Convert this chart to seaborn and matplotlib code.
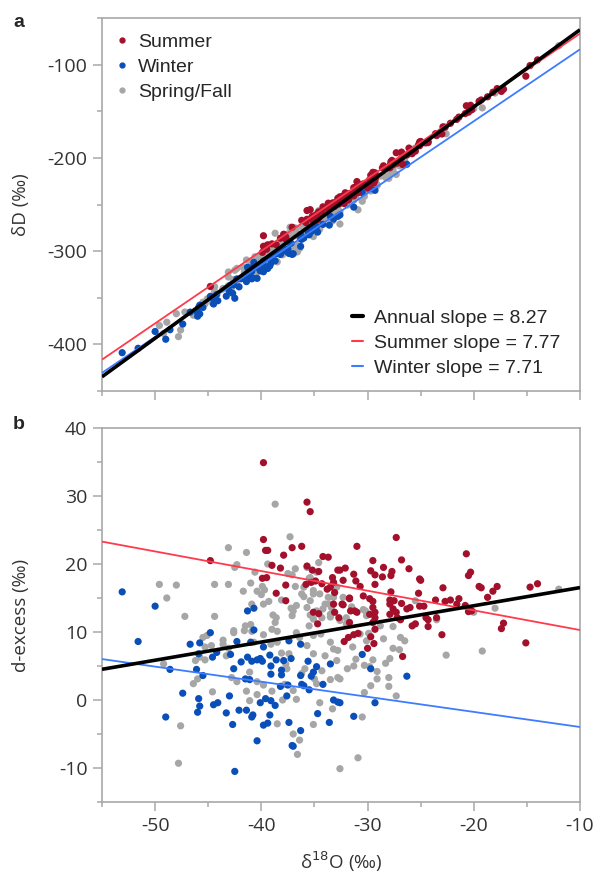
import numpy as np
import pandas as pd
import matplotlib
matplotlib.use("Agg")
import matplotlib.pyplot as plt
import seaborn as sns
from matplotlib.lines import Line2D
from matplotlib.ticker import MultipleLocator

sns.set_style("white")
plt.rcParams["font.family"] = ["Open Sans", "DejaVu Sans"]

# ---------------- data (delta18O, d-excess) ----------------
summer_points = [
    (-39.8, 34.9), (-35.7, 29.1), (-35.4, 27.7), (-39.8, 23.6), (-39.6, 22.0), (-39.4, 22.0),
    (-37.1, 22.4), (-36.2, 22.6), (-44.8, 20.5), (-37.9, 21.3), (-39.0, 19.8), (-38.2, 19.4),
    (-34.2, 21.1), (-33.7, 21.0), (-35.7, 19.7), (-35.2, 19.1), (-34.6, 18.9), (-32.8, 19.1),
    (-39.9, 17.9), (-39.5, 18.0), (-37.7, 16.9), (-35.8, 17.0), (-35.3, 17.3), (-34.9, 17.5),
    (-33.3, 18.0), (-33.2, 17.3), (-33.5, 16.6), (-38.6, 15.7), (-37.7, 14.6), (-33.1, 12.9),
    (-34.3, 17.1), (-33.8, 16.3), (-31.3, 18.5), (-32.3, 17.6), (-31.7, 15.0), (-33.1, 15.8),
    (-31.6, 13.1), (-33.2, 14.1), (-32.4, 14.1), (-34.6, 12.7), (-35.1, 12.9),
    (-27.3, 23.9), (-31.0, 22.6), (-29.5, 20.5), (-26.8, 20.6), (-20.7, 21.5), (-32.1, 19.4),
    (-32.6, 19.1), (-29.7, 19.0), (-28.5, 19.5), (-27.7, 18.9), (-26.1, 19.3), (-29.3, 18.4),
    (-28.6, 18.1), (-27.8, 18.3), (-20.5, 18.3), (-20.3, 18.8), (-31.1, 17.5), (-30.7, 16.7),
    (-29.3, 17.0), (-25.1, 17.8), (-25.0, 17.6), (-19.5, 16.7), (-19.3, 16.5), (-17.8, 16.7),
    (-14.7, 16.6), (-14.0, 17.1), (-22.9, 16.5), (-18.2, 16.0), (-18.7, 15.1), (-25.2, 15.7),
    (-27.8, 15.9), (-31.7, 14.9), (-30.4, 15.3), (-29.8, 14.9), (-29.5, 14.5), (-27.9, 14.7),
    (-27.5, 14.6), (-26.8, 14.2), (-27.9, 14.1), (-23.6, 14.7), (-22.7, 14.5), (-22.2, 14.7),
    (-21.4, 14.9), (-21.6, 14.1), (-20.8, 13.9), (-25.1, 13.8), (-24.7, 13.8), (-26.0, 13.6),
    (-26.3, 13.4), (-29.5, 13.6), (-29.3, 12.9), (-29.8, 12.6), (-31.2, 13.1), (-32.3, 14.0),
    (-27.6, 13.4), (-27.3, 12.9), (-27.9, 12.6), (-20.5, 13.0), (-20.2, 13.1), (-24.5, 12.1),
    (-23.5, 12.1), (-17.2, 11.3), (-17.4, 10.5), (-15.1, 8.4), (-23.0, 9.6), (-24.3, 11.8),
    (-24.3, 10.8), (-25.5, 11.2), (-25.8, 10.9), (-26.9, 11.8), (-27.2, 12.1), (-29.3, 10.4),
    (-29.5, 11.4), (-29.3, 12.1), (-32.2, 8.6), (-31.8, 9.2), (-31.3, 9.6), (-30.9, 9.8),
    (-29.7, 9.3), (-30.0, 7.6), (-29.4, 8.3), (-26.7, 6.4), (-31.7, 11.4), (-31.0, 12.9),
    (-34.7, 11.2), (-32.7, 12.1),
]

winter_points = [
    (-53.1, 15.9), (-50.0, 13.8), (-41.3, 13.1), (-40.7, 13.5), (-51.6, 8.6), (-48.6, 4.5),
    (-46.7, 8.2), (-45.8, 8.4), (-44.8, 9.9), (-40.7, 10.3), (-42.3, 8.6), (-41.0, 8.5),
    (-39.8, 7.8), (-37.4, 8.7), (-36.3, 8.2), (-45.9, 6.8), (-44.6, 6.3), (-42.9, 6.7),
    (-44.2, 7.0), (-41.3, 6.3), (-40.4, 5.9), (-40.1, 6.1), (-39.9, 5.7), (-40.9, 5.7),
    (-41.9, 5.6), (-39.2, 6.6), (-38.6, 5.9), (-37.9, 5.8), (-37.2, 6.1), (-35.6, 5.7),
    (-34.8, 4.9), (-33.5, 5.3), (-46.1, 4.5), (-45.5, 3.6), (-42.6, 4.6), (-39.1, 5.0),
    (-39.1, 3.8), (-38.1, 4.4), (-38.1, 3.7), (-41.5, 3.1), (-41.1, 3.0), (-36.3, 3.6),
    (-35.3, 3.5), (-35.1, 4.1), (-38.2, 2.0), (-37.5, 2.2), (-36.2, 2.3), (-35.5, 1.5),
    (-34.2, 2.3), (-47.4, 1.0), (-43.0, 0.6), (-40.1, -0.4), (-39.6, 0.2), (-39.1, -0.1),
    (-38.7, -0.8), (-37.6, 0.6), (-45.9, 0.2), (-45.8, -0.9), (-46.0, -1.8), (-44.5, -0.7),
    (-44.1, -0.4), (-43.3, -1.9), (-42.1, -1.5), (-41.4, -1.5), (-40.9, -2.5), (-40.8, -2.2),
    (-42.7, -3.6), (-39.8, -3.7), (-39.4, -3.4), (-39.2, -2.2), (-37.4, -3.3), (-36.3, -4.5),
    (-33.6, -3.3), (-34.7, -2.0), (-40.4, -6.0), (-37.1, -6.7), (-37.0, -6.8), (-42.5, -10.5),
    (-49.0, -2.5), (-33.2, 0.0), (-32.8, -0.3), (-30.5, 6.7), (-29.7, 4.6), (-26.3, 3.5),
    (-29.3, -0.4), (-31.3, -2.4), (-32.6, -0.4), (-36.0, 2.1),
]

springfall_points = [
    (-38.7, 28.8), (-37.3, 24.0), (-43.1, 22.4), (-41.4, 21.7), (-42.5, 19.5), (-42.3, 19.9),
    (-39.4, 20.0), (-40.6, 18.8), (-49.6, 17.0), (-48.0, 16.9), (-44.4, 17.0), (-43.1, 17.0),
    (-48.9, 15.0), (-41.0, 17.2), (-41.7, 16.0), (-39.9, 16.7), (-39.7, 16.2), (-40.4, 16.0),
    (-40.0, 15.5), (-37.5, 18.6), (-36.8, 19.3), (-37.1, 18.4), (-34.6, 20.2), (-36.8, 16.7),
    (-36.0, 16.6), (-35.5, 17.9), (-35.1, 15.6), (-36.0, 15.2), (-35.4, 14.6), (-39.8, 14.1),
    (-39.3, 14.5), (-38.1, 14.7), (-37.2, 13.5), (-36.7, 13.9), (-47.2, 12.3), (-44.4, 12.3),
    (-38.9, 12.5), (-38.6, 12.1), (-37.1, 12.4), (-37.0, 13.1), (-35.4, 12.5), (-34.6, 12.7),
    (-34.2, 13.4), (-33.6, 14.1), (-33.2, 15.1), (-33.5, 12.6), (-34.3, 12.1), (-40.9, 14.1),
    (-35.7, 19.5), (-34.8, 18.8), (-35.4, 18.0), (-35.1, 16.1), (-34.5, 15.6), (-33.7, 15.1),
    (-34.0, 14.1), (-33.4, 13.6), (-34.8, 13.1), (-36.2, 15.6), (-32.9, 16.6), (-35.7, 13.6),
    (-33.5, 12.2), (-32.6, 11.7), (-32.0, 11.2), (-30.2, 13.1), (-32.3, 15.1),
    (-12.0, 16.3), (-18.0, 13.5), (-31.5, 13.7), (-30.4, 13.3), (-30.1, 12.4), (-32.0, 12.1),
    (-25.5, 14.6), (-20.0, 12.9),
    (-19.2, 7.2), (-22.6, 6.6), (-23.5, 11.8), (-26.5, 8.7), (-26.9, 9.2), (-27.0, 7.4),
    (-27.6, 7.6), (-27.9, 6.1), (-28.3, 5.4), (-28.5, 9.0), (-27.6, 10.8), (-28.8, 10.9),
    (-29.9, 9.8), (-30.1, 8.7), (-30.7, 9.7), (-31.4, 7.8), (-31.1, 6.0), (-31.3, 5.0),
    (-31.9, 4.6), (-30.3, 5.1), (-29.8, 4.9), (-29.5, 5.9), (-29.1, 4.2), (-29.1, 3.1),
    (-29.7, 2.1), (-28.0, 3.3), (-28.0, 2.0), (-30.3, 1.1), (-27.3, 0.6), (-30.5, -2.5),
    (-30.9, -8.5), (-32.6, -10.1), (-32.6, 3.1),
    (-47.8, -9.3), (-47.6, -3.8), (-49.2, 5.3), (-46.4, 2.4), (-46.0, 3.1), (-46.2, 5.8),
    (-45.5, 9.2), (-45.1, 9.5), (-44.7, 8.0), (-45.3, 7.8), (-45.8, 6.3), (-45.3, 5.9),
    (-43.6, 8.8), (-43.6, 8.2), (-43.1, 7.6), (-43.3, 6.5), (-42.6, 10.2), (-41.6, 10.2),
    (-41.5, 10.9), (-40.9, 10.1), (-39.0, 10.4), (-38.7, 11.4), (-38.5, 10.1), (-39.8, 9.6),
    (-40.7, 8.5), (-39.1, 8.2), (-38.5, 8.5), (-38.1, 6.9), (-37.4, 6.8), (-37.7, 5.3),
    (-36.7, 9.9), (-36.4, 9.2), (-35.1, 11.9), (-35.5, 10.9), (-35.1, 9.5), (-34.4, 9.7),
    (-33.5, 8.5), (-33.2, 7.5), (-34.0, 6.5), (-35.1, 6.8), (-35.7, 8.0), (-35.9, 4.6),
    (-36.2, 3.9), (-35.0, 3.1), (-33.5, 3.0), (-32.8, 3.3), (-32.9, 5.8), (-32.8, 7.3),
    (-34.3, 4.3), (-37.6, 4.6), (-37.8, 2.3), (-37.0, 1.4), (-36.7, 0.1), (-38.0, 0.0),
    (-39.0, 1.3), (-39.8, 2.2), (-40.4, 2.7), (-40.4, 0.8), (-41.1, -0.1), (-42.3, 2.7),
    (-42.8, 3.3), (-44.6, 1.2), (-41.4, 1.3), (-41.1, 4.1), (-38.5, -3.5), (-36.4, -5.9),
    (-37.0, -5.0), (-36.6, -8.0), (-35.1, -3.6), (-34.5, -0.4), (-33.3, -1.3),
    (-42.6, 9.9), (-41.0, 11.1), (-34.8, 2.4),
]

season_names = ["Spring/Fall", "Winter", "Summer"]
season_colors = ["#a6a6a6", "#0a4fb8", "#a3102b"]

# regression lines: (label, slope, intercept) for dD and d-excess
fit_labels = ["Annual slope = 8.27", "Summer slope = 7.77", "Winter slope = 7.71"]
fit_colors = ["#000000", "#ff3a4c", "#3d7cff"]
fit_widths = [2.6, 1.3, 1.3]
dD_slopes = [8.27, 7.77, 7.71]
dD_intercepts = [20.1, 11.0, -6.5]
dex_slopes = [0.267, -0.289, -0.222]
dex_intercepts = [19.2, 7.4, -6.19]

# ---------------- build table ----------------
frames = []
for name, pts in zip(season_names, [springfall_points, winter_points, summer_points]):
    arr = np.array(pts)
    frames.append(pd.DataFrame({"season": name, "d18O": arr[:, 0], "dex": arr[:, 1]}))
df = pd.concat(frames, ignore_index=True)
df["dD"] = df["dex"] + 8.0 * df["d18O"]  # d-excess = dD - 8*d18O

palette = dict(zip(season_names, season_colors))

W, H = 598, 876
fig = plt.figure(figsize=(W / 100, H / 100), dpi=100)
ax1 = fig.add_axes([102 / W, 1 - 391 / H, 478 / W, 373 / H])
ax2 = fig.add_axes([102 / W, 1 - 802 / H, 478 / W, 374 / H])

spine_col = "#a8a8a8"
tick_col = "#333333"

for ax, ycol in [(ax1, "dD"), (ax2, "dex")]:
    sns.scatterplot(data=df, x="d18O", y=ycol, hue="season", palette=palette,
                    hue_order=season_names, s=27, linewidth=0, legend=False, ax=ax, zorder=2)

xr = np.array([-55.0, -10.0])
for lab, c, lw, s1, b1, s2, b2 in zip(fit_labels, fit_colors, fit_widths,
                                       dD_slopes, dD_intercepts, dex_slopes, dex_intercepts):
    ax1.plot(xr, s1 * xr + b1, color=c, lw=lw, zorder=3 if lw < 2 else 4, solid_capstyle="butt")
    ax2.plot(xr, s2 * xr + b2, color=c, lw=lw, zorder=3 if lw < 2 else 4, solid_capstyle="butt")

ax1.set_xlim(-55, -10)
ax1.set_ylim(-450, -50)
ax2.set_xlim(-55, -10)
ax2.set_ylim(-15, 40)

for ax in (ax1, ax2):
    ax.xaxis.set_major_locator(MultipleLocator(10))
    ax.xaxis.set_minor_locator(MultipleLocator(5))
    for sp in ax.spines.values():
        sp.set_color(spine_col)
        sp.set_linewidth(1.2)
        sp.set_visible(True)
    ax.tick_params(which="major", direction="out", length=6.5, width=1.1, color=spine_col,
                   labelsize=14, labelcolor=tick_col, pad=4, left=True, bottom=True)
    ax.tick_params(which="minor", direction="out", length=3.5, width=1.1, color=spine_col,
                   left=True, bottom=True)
    ax.set_xlabel("")
    ax.set_ylabel("")

ax1.yaxis.set_major_locator(MultipleLocator(100))
ax1.yaxis.set_minor_locator(MultipleLocator(50))
ax1.set_yticks([-100, -200, -300, -400])
ax1.set_yticklabels(["-100", "-200", "-300", "-400"])
ax1.tick_params(axis="x", labelbottom=False)

ax2.set_yticks([-10, 0, 10, 20, 30, 40])
ax2.set_yticklabels(["-10", "0", "10", "20", "30", "40"])
ax2.yaxis.set_minor_locator(MultipleLocator(5))
ax2.set_xticks([-50, -40, -30, -20, -10])
ax2.set_xticklabels(["-50", "-40", "-30", "-20", "-10"])

ax1.set_ylabel("δD (‰)", fontsize=13.5, color=tick_col)
ax1.yaxis.set_label_coords(-0.15, 0.5)
ax2.set_ylabel("d-excess (‰)", fontsize=13.5, color=tick_col)
ax2.yaxis.set_label_coords(-0.15, 0.5)
ax2.set_xlabel("δ$^{18}$O (‰)", fontsize=13.5, color=tick_col)
ax2.xaxis.set_label_coords(0.5, -0.128)

fig.text(13 / W, 1 - 27 / H, "a", fontsize=14, fontweight="bold", family="Liberation Sans")
fig.text(13 / W, 1 - 429 / H, "b", fontsize=14, fontweight="bold", family="Liberation Sans")

leg_font = {"family": "Liberation Sans", "size": 14}
h1 = [Line2D([], [], marker="o", ls="none", color=palette[n], markersize=3.5)
      for n in ["Summer", "Winter", "Spring/Fall"]]
leg1 = ax1.legend(h1, ["Summer", "Winter", "Spring/Fall"], loc="upper left",
                  bbox_to_anchor=(117 / W, 1 - 33 / H), bbox_transform=fig.transFigure,
                  frameon=False, handlelength=0.5, handletextpad=0.6, labelspacing=0.38,
                  borderpad=0, borderaxespad=0, prop=leg_font)
ax1.add_artist(leg1)
h2 = [Line2D([], [], color=c, lw=(3 if i == 0 else 1.5)) for i, c in enumerate(fit_colors)]
leg2 = ax1.legend(h2, fit_labels, loc="upper left",
                  bbox_to_anchor=(352 / W, 1 - 309 / H), bbox_transform=fig.transFigure,
                  frameon=False, handlelength=0.55, handletextpad=0.6, labelspacing=0.38,
                  borderpad=0, borderaxespad=0, prop=leg_font)

fig.savefig("out.png", dpi=100, facecolor="white")
